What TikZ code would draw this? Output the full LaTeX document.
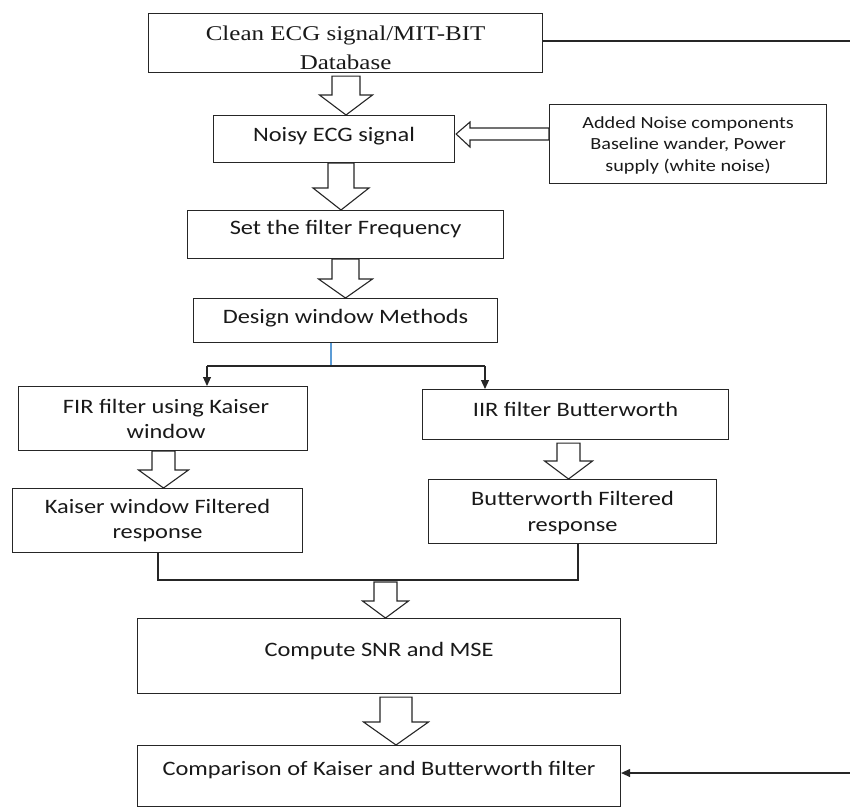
\documentclass[tikz,border=0pt]{standalone}
\usepackage{fontspec}
\setmainfont{Carlito}[FakeStretch=1.19]
\newfontfamily\tnr{Liberation Serif}[FakeStretch=1.19]
\usetikzlibrary{arrows.meta,calc}
\definecolor{ln}{HTML}{262626}
\definecolor{bline}{RGB}{91,155,213}
\tikzset{
  box/.style={draw=ln, line width=1.1pt, inner sep=0pt, anchor=north west},
  lbl/.style={inner sep=0pt, align=center, text=black!90, font=\fontsize{20.5}{25}\selectfont},
  conn/.style={draw=ln, line width=1.1pt},
  tipline/.style={conn, -{Triangle[length=9pt,width=8pt]}},
  barr/.style={draw=ln, line width=1.1pt, fill=white, line join=miter},
}
% hollow block arrow pointing down: from point #1 to point #2, x centre #3,
% shaft half width #4, head half width #5, head length #6, gap below start #7
\newcommand\vblock[7]{%
  \draw[barr] let \p1=(#1), \p2=(#2) in
    (#3-#4,\y1-#7) -- (#3+#4,\y1-#7) -- (#3+#4,\y2+#6) -- (#3+#5,\y2+#6)
    -- (#3,\y2) -- (#3-#5,\y2+#6) -- (#3-#4,\y2+#6) -- cycle;}
\begin{document}
\begin{tikzpicture}[x=1pt,y=-1pt]
\useasboundingbox (0,0) rectangle (850,808);

% boxes
\node[box, minimum width=394, minimum height=59,
  label={[lbl, font=\tnr\fontsize{21}{29}\selectfont, yshift=-5pt]center:{Clean ECG signal/MIT-BIT\\Database}}] (b1) at (148,13) {};
\node[box, minimum width=241, minimum height=47,
  label={[lbl, yshift=2.5pt]center:{Noisy ECG signal}}] (b2) at (213,115) {};
\node[box, minimum width=277, minimum height=79,
  label={[lbl, font=\fontsize{17}{21.5}\selectfont, yshift=-1pt]center:{Added Noise components\\Baseline wander, Power\\supply (white noise)}}] (nz) at (549,104) {};
\node[box, minimum width=316, minimum height=48,
  label={[lbl, yshift=6pt]center:{Set the filter Frequency}}] (b3) at (187,210) {};
\node[box, minimum width=304, minimum height=44,
  label={[lbl, yshift=2pt]center:{Design window Methods}}] (b4) at (193,298) {};
\node[box, minimum width=289, minimum height=64,
  label={[lbl, xshift=3pt]center:{FIR filter using Kaiser\\window}}] (b5) at (18,386) {};
\node[box, minimum width=306, minimum height=50,
  label={[lbl, yshift=5pt]center:{IIR filter Butterworth}}] (b6) at (422,389) {};
\node[box, minimum width=290, minimum height=64,
  label={[lbl]center:{Kaiser window Filtered\\response}}] (b7) at (12,488) {};
\node[box, minimum width=288, minimum height=64,
  label={[lbl, font=\fontsize{20.5}{26}\selectfont, yshift=-1pt]center:{Butterworth Filtered\\response}}] (b8) at (428,479) {};
\node[box, minimum width=483, minimum height=75,
  label={[lbl, yshift=5pt]center:{Compute SNR and MSE}}] (b9) at (137,618) {};
\node[box, minimum width=483, minimum height=61,
  label={[lbl, yshift=6pt]center:{Comparison of Kaiser and Butterworth filter}}] (b10) at (137,745) {};

% helper coordinates
\coordinate (br) at (331,366);
\coordinate (bL) at (207,366);
\coordinate (bR) at (485,366);
\coordinate (mL) at (158,580);
\coordinate (mR) at (578,580);
\coordinate (mm) at (385.5,580);
\coordinate (r1) at (852,41);
\coordinate (r2) at (852,773);

% hollow block arrows
\vblock{b1.south}{b2.north}{346}{14}{26.5}{20pt}{3pt}
\vblock{b2.south}{b3.north}{341}{13}{28}{22pt}{0pt}
\vblock{b3.south}{b4.north}{345.5}{13.5}{27}{19pt}{0pt}
\vblock{b5.south}{b7.north}{163.5}{11.5}{25}{18pt}{0pt}
\vblock{b6.south}{b8.north}{568.5}{11.5}{24}{18pt}{3pt}
\vblock{mm}{b9.north}{385.5}{11.5}{23}{17pt}{2pt}
\vblock{b9.south}{b10.north}{396}{16}{32.5}{23pt}{3pt}
\draw[barr] let \p1=(nz.west), \p2=(b2.east) in
  (\x1,128) -- (470,128) -- (470,122) -- (\x2+1pt,134) -- (470,147)
  -- (470,140) -- (\x1,140) -- cycle;

% branch
\draw[bline, line width=1.1pt] (b4.south -| br) -- (br);
\draw[conn] (bL) -- (bR);
\draw[tipline] (bL) -- (b5.north -| bL);
\draw[tipline] (bR) -- (b6.north -| bR);

% merge
\draw[conn] (b7.south -| mL) -- (mL) -- (mR) -- (b8.south -| mR);

% feedback line on the right
\draw[conn] (b1.east |- r1) -- (r1) -- (r2);
\draw[tipline] (r2) -- (b10.east |- r2);
\end{tikzpicture}
\end{document}
